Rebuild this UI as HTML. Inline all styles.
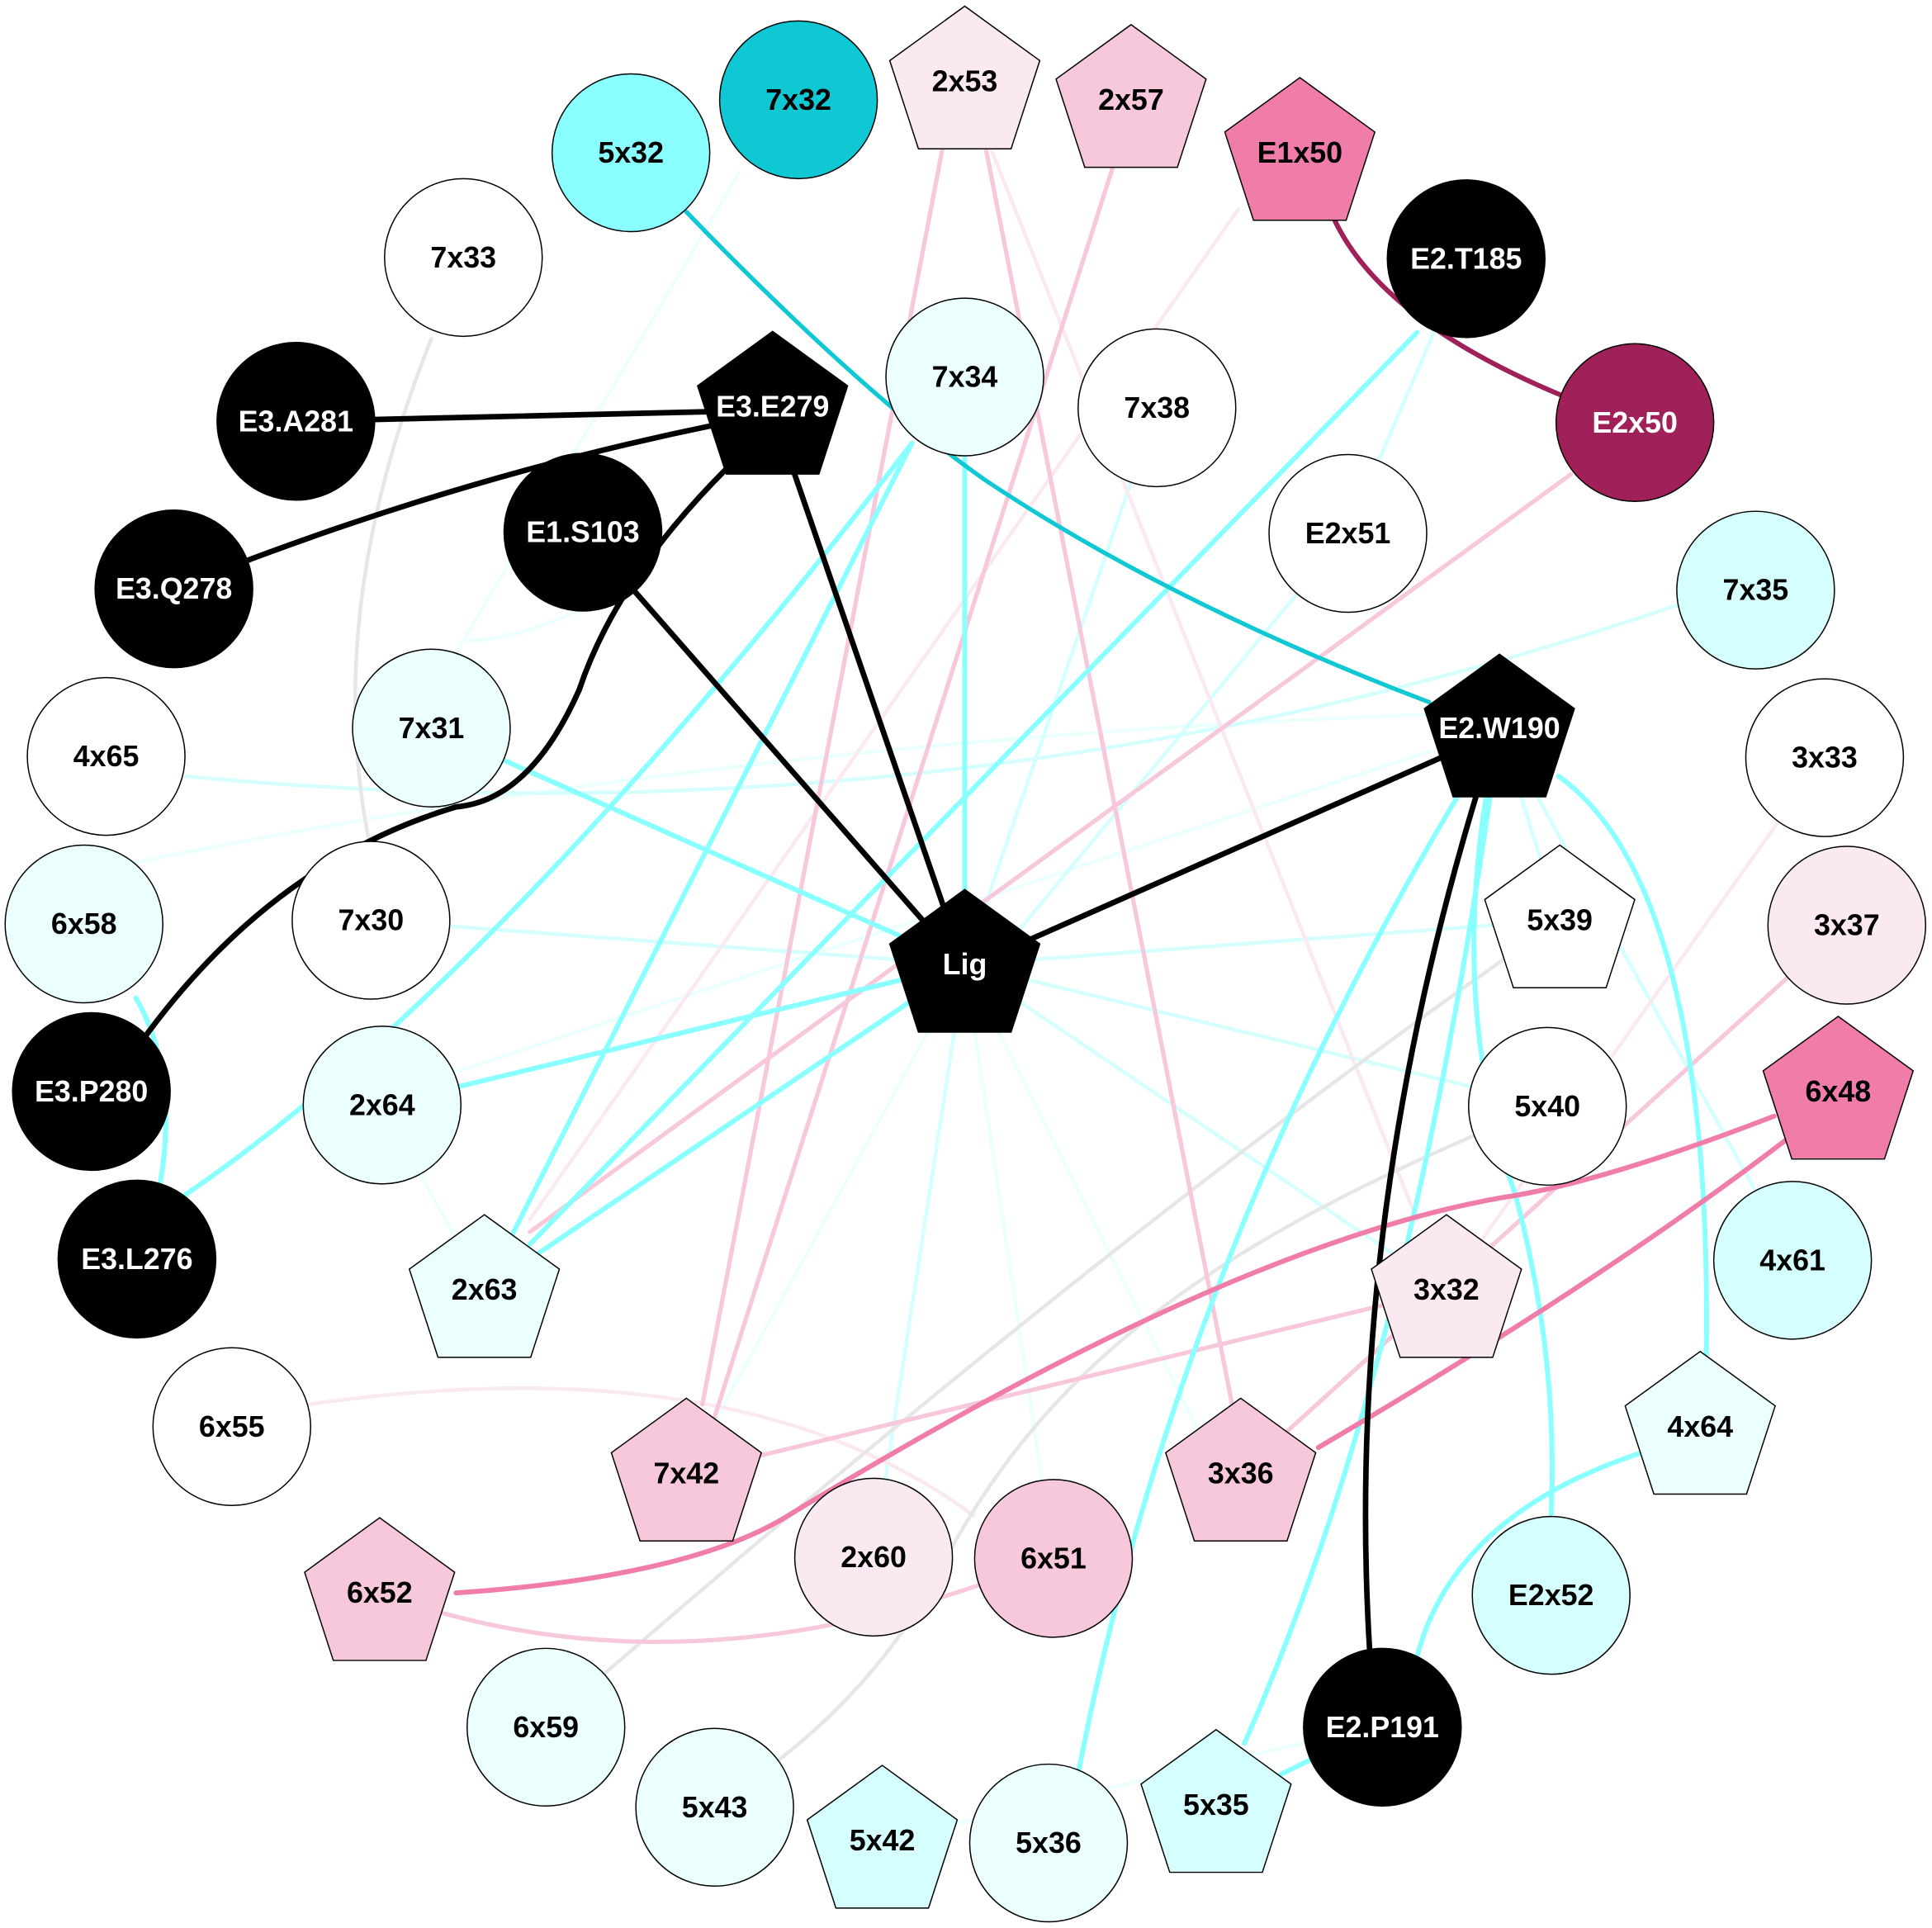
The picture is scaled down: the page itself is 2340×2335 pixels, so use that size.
<!DOCTYPE html>
<html><head><meta charset="utf-8"><style>
html,body{margin:0;padding:0;background:#fff}
svg{display:block}
text{font-family:"Liberation Sans",Arial,sans-serif;font-weight:bold;font-size:24px;text-anchor:middle;dominant-baseline:central}
</style></head><body>
<svg width="2340" height="2335" viewBox="0 0 1568 1565" xmlns="http://www.w3.org/2000/svg">
<defs>
<polygon id="p" points="0,-64 60.9,-19.8 37.6,51.8 -37.6,51.8 -60.9,-19.8" stroke="#000" stroke-width="1"/>
</defs>
<g fill="none" stroke-linecap="round">
<g stroke="#eafffe" stroke-width="3">
<path d="M600,140 L370,530"/>
<path d="M1160,580 Q600,600 110,700"/>
<path d="M370,870 L1160,610"/>
<path d="M783,783 L990,1196"/>
<path d="M783,783 L855,1264"/>
<path d="M783,783 L557,1196"/>
<path d="M716,1494 L1122,1400"/>
<path d="M520,470 Q430,520 380,520"/>
<path d="M310,897 L393,1047"/>
</g>
<g stroke="#d4fffe" stroke-width="3">
<path d="M1190,209 L1094,432"/>
<path d="M939,330 L783,783"/>
<path d="M301,747 L783,783"/>
<path d="M783,783 L1266,747"/>
<path d="M783,783 L1256,897"/>
<path d="M783,783 L1174,1047"/>
<path d="M783,783 L709,1262"/>
<path d="M150,630 Q780,690 1365,490"/>
<path d="M1217,591 L1266,747"/>
<path d="M1217,591 L1455,1021"/>
<path d="M1094,432 L790,800"/>
</g>
<g stroke="#fbe9f1" stroke-width="3">
<path d="M1005,170 L430,990"/>
<path d="M800,110 L1150,990"/>
<path d="M1481,614 L1174,1047"/>
<path d="M250,1140 Q600,1090 790,1230"/>
</g>
<g stroke="#e6e6e6" stroke-width="3">
<path d="M350,275 Q260,500 301,690"/>
<path d="M1266,747 Q900,1000 443,1400"/>
<path d="M1256,897 C1000,1000 850,1100 760,1280 Q700,1390 580,1465"/>
</g>
<g stroke="#f7c7dc" stroke-width="3.5">
<path d="M765,120 L570,1140"/>
<path d="M800,120 L1000,1140"/>
<path d="M905,130 L580,1150"/>
<path d="M1275,385 L430,1000"/>
<path d="M1499,750 L1007,1196"/>
<path d="M1174,1047 L557,1196"/>
<path d="M308,1293 Q560,1385 855,1264"/>
</g>
<g stroke="#8affff" stroke-width="4">
<path d="M783,305 L783,783"/>
<path d="M740,360 L393,1047"/>
<path d="M1150,270 L430,1010"/>
<path d="M350,591 L783,783"/>
<path d="M310,897 L783,783"/>
<path d="M393,1047 L783,783"/>
<path d="M740,360 Q400,800 150,970"/>
<path d="M110,810 Q145,870 130,960"/>
<path d="M1217,591 Q960,1000 875,1440"/>
<path d="M1217,591 Q1150,1100 1010,1415"/>
<path d="M1217,591 Q1170,800 1230,970 Q1265,1100 1259,1230"/>
<path d="M1265,630 Q1390,720 1385,1100"/>
<path d="M1330,1180 Q1180,1230 1150,1345"/>
<path d="M1122,1400 L1040,1440"/>
</g>
<path d="M557,172 Q700,320 800,390 Q950,490 1160,570" stroke="#10c8d4" stroke-width="3.5"/>
<path d="M1082,176 Q1120,260 1270,322" stroke="#a0205a" stroke-width="4"/>
<g stroke="#f07caa" stroke-width="4">
<path d="M1440,906 Q1300,960 1220,972 Q1000,1010 640,1230 Q560,1280 370,1293"/>
<path d="M1450,925 Q1300,1040 1070,1175"/>
</g>
<g stroke="#000" stroke-width="4.5">
<path d="M240,342 L627,333"/>
<path d="M141,478 Q360,390 580,345"/>
<path d="M627,333 L783,786"/>
<path d="M473,432 L783,786"/>
<path d="M590,380 Q500,470 470,560 Q430,650 370,655 Q220,700 115,845"/>
<path d="M1217,594 L783,786"/>
<path d="M1200,640 Q1090,1000 1112,1345"/>
</g>
</g>
<g stroke="#000" stroke-width="1">
<circle cx="648" cy="81" r="64" fill="#10c8d4"/>
<circle cx="512" cy="124" r="64" fill="#8affff"/>
<circle cx="376" cy="209" r="64" fill="#fff"/>
<circle cx="240" cy="342" r="64" fill="#000"/>
<circle cx="141" cy="478" r="64" fill="#000"/>
<circle cx="473" cy="432" r="64" fill="#000"/>
<circle cx="86" cy="614" r="64" fill="#fff"/>
<circle cx="350" cy="591" r="64" fill="#eafffe"/>
<circle cx="68" cy="750" r="64" fill="#eafffe"/>
<circle cx="301" cy="747" r="64" fill="#fff"/>
<circle cx="74" cy="886" r="64" fill="#000"/>
<circle cx="310" cy="897" r="64" fill="#eafffe"/>
<circle cx="111" cy="1022" r="64" fill="#000"/>
<circle cx="188" cy="1158" r="64" fill="#fff"/>
<circle cx="709" cy="1264" r="64" fill="#fbe9f1"/>
<circle cx="855" cy="1265" r="64" fill="#f7c7dc"/>
<circle cx="443" cy="1402" r="64" fill="#eafffe"/>
<circle cx="580" cy="1467" r="64" fill="#eafffe"/>
<circle cx="851" cy="1496" r="64" fill="#eafffe"/>
<circle cx="1122" cy="1402" r="64" fill="#000"/>
<circle cx="1259" cy="1295" r="64" fill="#d4fffe"/>
<circle cx="1455" cy="1023" r="64" fill="#d4fffe"/>
<circle cx="1256" cy="898" r="64" fill="#fff"/>
<circle cx="1499" cy="751" r="64" fill="#fbe9f1"/>
<circle cx="1481" cy="615" r="64" fill="#fff"/>
<circle cx="1425" cy="479" r="64" fill="#d4fffe"/>
<circle cx="1094" cy="433" r="64" fill="#fff"/>
<circle cx="1327" cy="343" r="64" fill="#a0205a"/>
<circle cx="1190" cy="210" r="64" fill="#000"/>
<circle cx="939" cy="331" r="64" fill="#fff"/>
<circle cx="783" cy="306" r="64" fill="#eafffe"/>
</g>
<use href="#p" x="783" y="69" fill="#fbe9f1"/>
<use href="#p" x="918" y="84" fill="#f7c7dc"/>
<use href="#p" x="1055" y="127" fill="#f07caa"/>
<use href="#p" x="627" y="333" fill="#000"/>
<use href="#p" x="1217" y="595" fill="#000"/>
<use href="#p" x="783" y="786" fill="#000"/>
<use href="#p" x="1266" y="750" fill="#fff"/>
<use href="#p" x="1492" y="889" fill="#f07caa"/>
<use href="#p" x="393" y="1050" fill="#eafffe"/>
<use href="#p" x="1174" y="1050" fill="#fbe9f1"/>
<use href="#p" x="1380" y="1161" fill="#eafffe"/>
<use href="#p" x="557" y="1199" fill="#f7c7dc"/>
<use href="#p" x="1007" y="1199" fill="#f7c7dc"/>
<use href="#p" x="308" y="1296" fill="#f7c7dc"/>
<use href="#p" x="716" y="1497" fill="#d4fffe"/>
<use href="#p" x="987" y="1468" fill="#d4fffe"/>
<g fill="#000">
<text x="648" y="81">7x32</text>
<text x="512" y="124">5x32</text>
<text x="376" y="209">7x33</text>
<text x="86" y="614">4x65</text>
<text x="350" y="591">7x31</text>
<text x="68" y="750">6x58</text>
<text x="301" y="747">7x30</text>
<text x="310" y="897">2x64</text>
<text x="188" y="1158">6x55</text>
<text x="709" y="1264">2x60</text>
<text x="855" y="1265">6x51</text>
<text x="443" y="1402">6x59</text>
<text x="580" y="1467">5x43</text>
<text x="851" y="1496">5x36</text>
<text x="1259" y="1295">E2x52</text>
<text x="1455" y="1023">4x61</text>
<text x="1256" y="898">5x40</text>
<text x="1499" y="751">3x37</text>
<text x="1481" y="615">3x33</text>
<text x="1425" y="479">7x35</text>
<text x="1094" y="433">E2x51</text>
<text x="939" y="331">7x38</text>
<text x="783" y="306">7x34</text>
<text x="783" y="66">2x53</text>
<text x="918" y="81">2x57</text>
<text x="1055" y="124">E1x50</text>
<text x="1266" y="747">5x39</text>
<text x="1492" y="886">6x48</text>
<text x="393" y="1047">2x63</text>
<text x="1174" y="1047">3x32</text>
<text x="1380" y="1158">4x64</text>
<text x="557" y="1196">7x42</text>
<text x="1007" y="1196">3x36</text>
<text x="308" y="1293">6x52</text>
<text x="716" y="1494">5x42</text>
<text x="987" y="1465">5x35</text>
</g>
<g fill="#fff">
<text x="240" y="342">E3.A281</text>
<text x="141" y="478">E3.Q278</text>
<text x="473" y="432">E1.S103</text>
<text x="74" y="886">E3.P280</text>
<text x="111" y="1022">E3.L276</text>
<text x="1122" y="1402">E2.P191</text>
<text x="1327" y="343">E2x50</text>
<text x="1190" y="210">E2.T185</text>
<text x="627" y="330">E3.E279</text>
<text x="1217" y="591">E2.W190</text>
<text x="783" y="783">Lig</text>
</g>
</svg>
</body></html>
